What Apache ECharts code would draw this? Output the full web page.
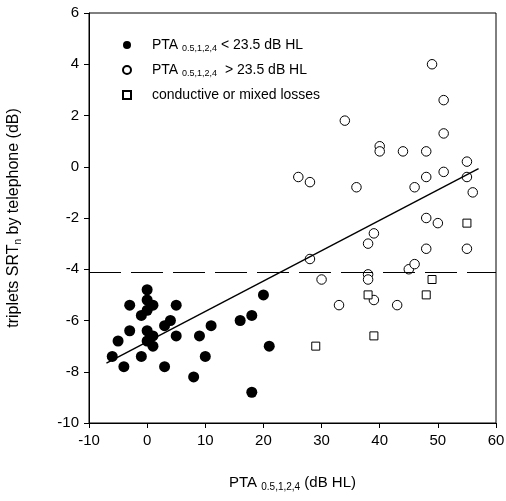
<!DOCTYPE html>
<html>
<head>
<meta charset="utf-8">
<script src="https://cdn.jsdelivr.net/npm/echarts@6/dist/echarts.min.js"></script>
<style>
  html, body { margin: 0; padding: 0; background: #fff; }
  #chart { width: 506px; height: 501px; }
</style>
</head>
<body>
<div id="chart"></div>
<script>
// Sensorineural listeners with PTA below 23.5 dB HL: [PTA, SRTn]
var lowPTA = [
  [0, -4.8], [0, -5.2], [1, -5.4], [-3, -5.4], [5, -5.4], [0, -5.6], [-1, -5.8],
  [4, -6.0], [3, -6.2], [11, -6.2], [-3, -6.4], [0, -6.4], [1, -6.6], [5, -6.6],
  [9, -6.6], [-5, -6.8], [0, -6.8], [1, -7.0], [-6, -7.4], [-1, -7.4], [10, -7.4],
  [-4, -7.8], [3, -7.8], [8, -8.2], [18, -8.8], [16, -6.0], [18, -5.8], [20, -5.0],
  [21, -7.0]
];

// Sensorineural listeners with PTA above 23.5 dB HL
var highPTA = [
  [49, 4.0], [51, 2.6], [34, 1.8], [51, 1.3], [40, 0.8], [40, 0.6], [44, 0.6],
  [48, 0.6], [55, 0.2], [26, -0.4], [28, -0.6], [36, -0.8], [48, -0.4], [51, -0.2],
  [55, -0.4], [46, -0.8], [56, -1.0], [48, -2.0], [50, -2.2], [39, -2.6], [38, -3.0],
  [48, -3.2], [55, -3.2], [28, -3.6], [30, -4.4], [38, -4.2], [38, -4.4], [45, -4.0],
  [46, -3.8], [33, -5.4], [39, -5.2], [43, -5.4]
];

// Conductive or mixed hearing losses
var conductive = [
  [55, -2.2], [38, -5.0], [49, -4.4], [48, -5.0], [39, -6.6], [29, -7.0]
];

// Linear regression across all sensorineural listeners (end points)
var fitLine = [[-7, -7.66], [57, -0.07]];

// Horizontal reference level (dB)
var refLevel = -4.1;

var xTicks = { min: -10, max: 60, step: 10 };
var yTicks = { min: -10, max: 6, step: 2 };

var FONT = 'Liberation Sans, Arial, sans-serif';

function subRich(main, sub, drop) {
  return {
    m: { fontFamily: FONT, fontSize: main, color: '#000' },
    s: { fontFamily: FONT, fontSize: sub, color: '#000', padding: [drop, 0, 0, 0] }
  };
}

var chart = echarts.init(document.getElementById('chart'), null, { renderer: 'canvas' });

chart.setOption({
  backgroundColor: '#fff',
  animation: false,
  grid: {
    left: 89, right: 10, top: 13, bottom: 78,
    containLabel: false, outerBoundsMode: 'none',
    show: true, borderColor: '#000', borderWidth: 1, backgroundColor: 'transparent'
  },
  legend: {
    orient: 'vertical',
    left: 122, top: 38,
    padding: 0,
    itemGap: 9.5,
    itemWidth: 8, itemHeight: 8,
    selectedMode: false,
    data: ['low', 'high', 'cond'],
    formatter: function (name) {
      if (name === 'low') return '{m|PTA }{s|0.5,1,2,4}{m| < 23.5 dB HL}';
      if (name === 'high') return '{m|PTA }{s|0.5,1,2,4}{m|  > 23.5 dB HL}';
      return '{m|conductive or mixed losses}';
    },
    textStyle: { padding: [0, 0, 0, 16], rich: subRich(14, 9, 8) }
  },
  xAxis: {
    type: 'value',
    min: xTicks.min, max: xTicks.max, interval: xTicks.step,
    name: '{m|PTA }{s|0.5,1,2,4}{m| (dB HL)}',
    nameLocation: 'middle', nameGap: 51,
    nameTextStyle: { rich: subRich(15, 10, 8) },
    axisLine: { onZero: false, lineStyle: { color: '#000', width: 1 } },
    axisTick: { show: true, inside: false, length: 5, lineStyle: { color: '#000' } },
    axisLabel: { color: '#000', fontFamily: FONT, fontSize: 15, margin: 10 },
    splitLine: { show: false }
  },
  yAxis: {
    type: 'value',
    min: yTicks.min, max: yTicks.max, interval: yTicks.step,
    name: '{m|triplets SRT}{s|n}{m| by telephone (dB)}',
    nameLocation: 'middle', nameGap: 66, nameRotate: 90,
    nameTextStyle: { rich: subRich(16, 10, 8) },
    axisLine: { onZero: false, lineStyle: { color: '#000', width: 1 } },
    axisTick: { show: true, inside: false, length: 5, lineStyle: { color: '#000' } },
    axisLabel: { color: '#000', fontFamily: FONT, fontSize: 15, margin: 10 },
    splitLine: { show: false }
  },
  series: [
    {
      name: 'ref', type: 'line', data: [], silent: true,
      markLine: {
        silent: true, symbol: ['none', 'none'], label: { show: false },
        lineStyle: { color: '#000', width: 1, type: [32, 10] },
        data: [{ yAxis: refLevel }]
      }
    },
    {
      name: 'fit', type: 'line', data: fitLine, showSymbol: false, silent: true,
      lineStyle: { color: '#000', width: 1.4 }
    },
    {
      name: 'low', type: 'scatter', data: lowPTA, symbol: 'circle', symbolSize: 11,
      itemStyle: { color: '#000', opacity: 1 }
    },
    {
      name: 'high', type: 'scatter', data: highPTA, symbol: 'circle', symbolSize: 9.5,
      itemStyle: { color: '#fff', borderColor: '#000', borderWidth: 1, opacity: 1 }
    },
    {
      name: 'cond', type: 'scatter', data: conductive, symbol: 'rect', symbolSize: 8,
      itemStyle: { color: '#fff', borderColor: '#000', borderWidth: 1, opacity: 1 }
    }
  ]
});
</script>
</body>
</html>
